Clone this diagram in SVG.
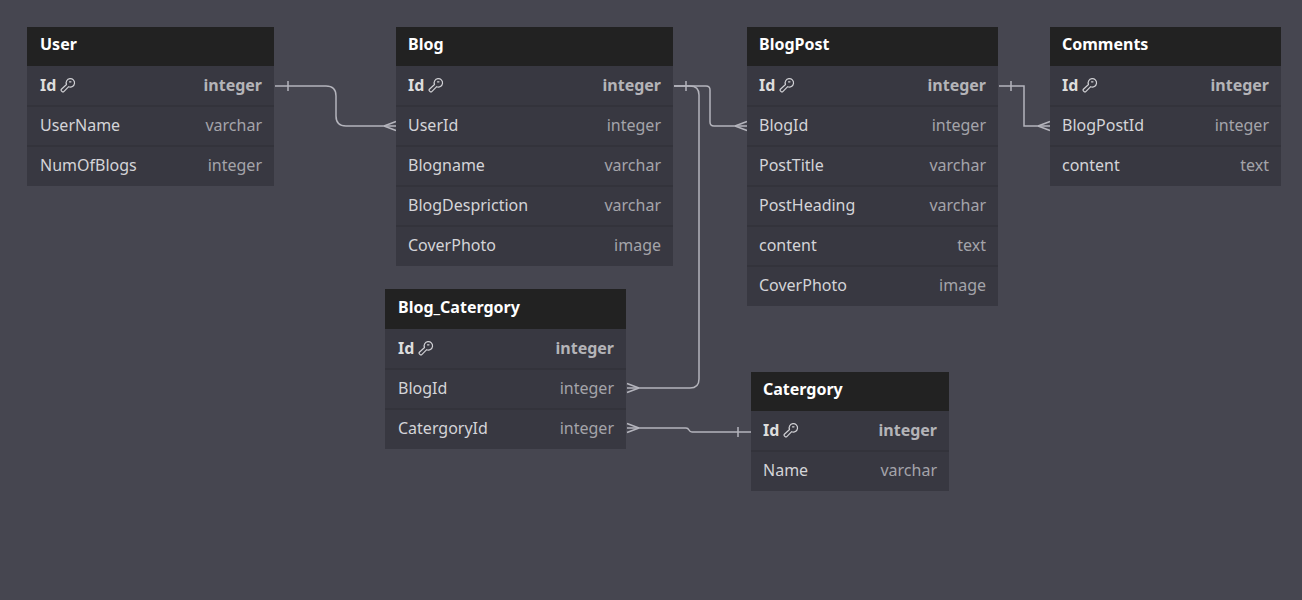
<svg xmlns="http://www.w3.org/2000/svg" width="1302" height="600" viewBox="0 0 1302 600">
<defs>
<style>
.bg{fill:#464650}
.body{fill:#383841}
.head{fill:#222222}
.sep{stroke:#2f2f37;stroke-width:1}
text{font-family:"Noto Sans","Open Sans","DejaVu Sans",sans-serif;font-size:16px}
.title{fill:#ffffff;font-weight:bold}
.pk{fill:#dddddd;font-weight:bold}
.pkt{fill:#b4b4b8;font-weight:bold;text-anchor:end}
.nm{fill:#d4d4d8}
.ty{fill:#a4a4aa;text-anchor:end}
.cn{fill:none;stroke:#b4b4bc;stroke-width:1.5}
.key{fill:none;stroke:#d0d0d4;stroke-width:1.2;stroke-linecap:round;stroke-linejoin:round}
</style>
<g id="keyicon">
<path class="key" d="M6.5,6.5 a4.2,4.2 0 1,1 2.2,2.2 L3.8,13.6 a1.2,1.2 0 0,1 -1.7,0 L1.4,12.9 a1.2,1.2 0 0,1 0,-1.7 Z M9.5,3.8 L11,3.8"/>
</g>
</defs>
<rect class="bg" x="0" y="0" width="1302" height="600"/>

<g id="connectors">
<path class="cn" d="M275,86 H326 Q336,86 336,96 V116 Q336,126 346,126 H396"/>
<path class="cn" d="M288,81 V91 M384,126 L396,121.5 M384,126 L396,130.5"/>

<path class="cn" d="M674,86 H706 Q710,86 710,90 V122 Q710,126 714,126 H747"/>
<path class="cn" d="M686,81 V91 M735,126 L747,121.5 M735,126 L747,130.5"/>

<path class="cn" d="M674,86 H690 Q699,86 699,95 V379 Q699,388 690,388 H627"/>
<path class="cn" d="M639,388 L627,383.5 M639,388 L627,392.5"/>

<path class="cn" d="M999,86 H1024 V126 H1050"/>
<path class="cn" d="M1011,81 V91 M1038,126 L1050,121.5 M1038,126 L1050,130.5"/>

<path class="cn" d="M627,428 H686 Q688,428 689,430 Q690,432 692,432 H751"/>
<path class="cn" d="M639,428 L627,423.5 M639,428 L627,432.5 M738,427 V437"/>
</g>

<g id="User">
<rect class="body" x="27" y="27" width="247" height="159"/>
<rect class="head" x="27" y="27" width="247" height="39"/>
<line class="sep" x1="27" y1="106" x2="274" y2="106"/>
<line class="sep" x1="27" y1="146" x2="274" y2="146"/>
<text class="title" x="40" y="50">User</text>
<text class="pk" x="40" y="91">Id</text><use href="#keyicon" x="60" y="78"/>
<text class="pkt" x="262" y="91">integer</text>
<text class="nm" x="40" y="131">UserName</text><text class="ty" x="262" y="131">varchar</text>
<text class="nm" x="40" y="171">NumOfBlogs</text><text class="ty" x="262" y="171">integer</text>
</g>

<g id="Blog">
<rect class="body" x="396" y="27" width="277" height="239"/>
<rect class="head" x="396" y="27" width="277" height="39"/>
<line class="sep" x1="396" y1="106" x2="673" y2="106"/>
<line class="sep" x1="396" y1="146" x2="673" y2="146"/>
<line class="sep" x1="396" y1="186" x2="673" y2="186"/>
<line class="sep" x1="396" y1="226" x2="673" y2="226"/>
<text class="title" x="408" y="50">Blog</text>
<text class="pk" x="408" y="91">Id</text><use href="#keyicon" x="428" y="78"/>
<text class="pkt" x="661" y="91">integer</text>
<text class="nm" x="408" y="131">UserId</text><text class="ty" x="661" y="131">integer</text>
<text class="nm" x="408" y="171">Blogname</text><text class="ty" x="661" y="171">varchar</text>
<text class="nm" x="408" y="211">BlogDespriction</text><text class="ty" x="661" y="211">varchar</text>
<text class="nm" x="408" y="251">CoverPhoto</text><text class="ty" x="661" y="251">image</text>
</g>

<g id="BlogPost">
<rect class="body" x="747" y="27" width="251" height="279"/>
<rect class="head" x="747" y="27" width="251" height="39"/>
<line class="sep" x1="747" y1="106" x2="998" y2="106"/>
<line class="sep" x1="747" y1="146" x2="998" y2="146"/>
<line class="sep" x1="747" y1="186" x2="998" y2="186"/>
<line class="sep" x1="747" y1="226" x2="998" y2="226"/>
<line class="sep" x1="747" y1="266" x2="998" y2="266"/>
<text class="title" x="759" y="50">BlogPost</text>
<text class="pk" x="759" y="91">Id</text><use href="#keyicon" x="779" y="78"/>
<text class="pkt" x="986" y="91">integer</text>
<text class="nm" x="759" y="131">BlogId</text><text class="ty" x="986" y="131">integer</text>
<text class="nm" x="759" y="171">PostTitle</text><text class="ty" x="986" y="171">varchar</text>
<text class="nm" x="759" y="211">PostHeading</text><text class="ty" x="986" y="211">varchar</text>
<text class="nm" x="759" y="251">content</text><text class="ty" x="986" y="251">text</text>
<text class="nm" x="759" y="291">CoverPhoto</text><text class="ty" x="986" y="291">image</text>
</g>

<g id="Comments">
<rect class="body" x="1050" y="27" width="231" height="159"/>
<rect class="head" x="1050" y="27" width="231" height="39"/>
<line class="sep" x1="1050" y1="106" x2="1281" y2="106"/>
<line class="sep" x1="1050" y1="146" x2="1281" y2="146"/>
<text class="title" x="1062" y="50">Comments</text>
<text class="pk" x="1062" y="91">Id</text><use href="#keyicon" x="1082" y="78"/>
<text class="pkt" x="1269" y="91">integer</text>
<text class="nm" x="1062" y="131">BlogPostId</text><text class="ty" x="1269" y="131">integer</text>
<text class="nm" x="1062" y="171">content</text><text class="ty" x="1269" y="171">text</text>
</g>

<g id="Blog_Catergory">
<rect class="body" x="385" y="289" width="241" height="160"/>
<rect class="head" x="385" y="289" width="241" height="40"/>
<line class="sep" x1="385" y1="369" x2="626" y2="369"/>
<line class="sep" x1="385" y1="409" x2="626" y2="409"/>
<text class="title" x="398" y="313">Blog_Catergory</text>
<text class="pk" x="398" y="354">Id</text><use href="#keyicon" x="418" y="341"/>
<text class="pkt" x="614" y="354">integer</text>
<text class="nm" x="398" y="394">BlogId</text><text class="ty" x="614" y="394">integer</text>
<text class="nm" x="398" y="434">CatergoryId</text><text class="ty" x="614" y="434">integer</text>
</g>

<g id="Catergory">
<rect class="body" x="751" y="372" width="198" height="119"/>
<rect class="head" x="751" y="372" width="198" height="39"/>
<line class="sep" x1="751" y1="451" x2="949" y2="451"/>
<text class="title" x="763" y="395">Catergory</text>
<text class="pk" x="763" y="436">Id</text><use href="#keyicon" x="783" y="423"/>
<text class="pkt" x="937" y="436">integer</text>
<text class="nm" x="763" y="476">Name</text><text class="ty" x="937" y="476">varchar</text>
</g>
</svg>
